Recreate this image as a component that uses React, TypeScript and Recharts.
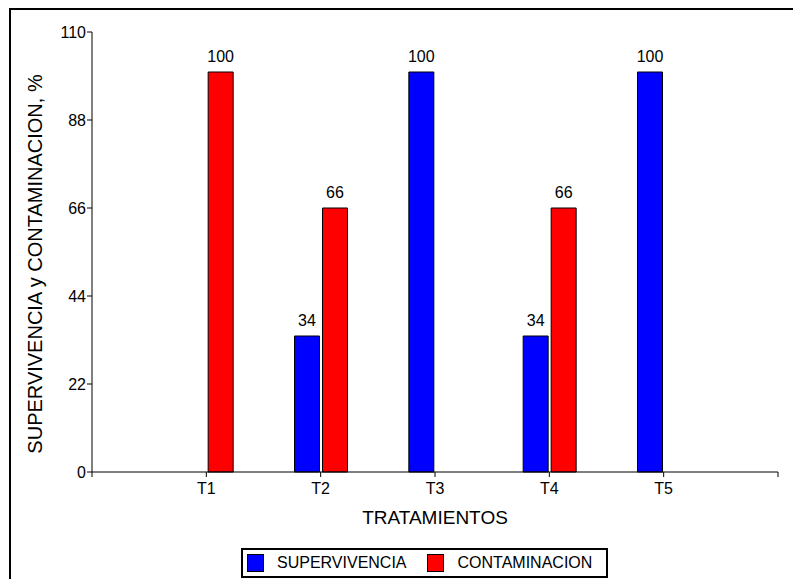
import React from 'react';
import { BarChart, Bar, XAxis, YAxis, Legend, LabelList } from 'recharts';

const categories = ['T1', 'T2', 'T3', 'T4', 'T5'];
const positions = [1, 2, 3, 4, 5];
const supervivencia = [null, 34, 100, 34, 100];
const contaminacion = [100, 66, null, 66, null];
const yTicks = [0, 22, 44, 66, 88, 110];
const xTicks = [0, 1, 2, 3, 4, 5, 6];

const data = positions.map((pos, i) => ({
    pos,
    name: categories[i],
    supervivencia: supervivencia[i],
    contaminacion: contaminacion[i],
}));

const colors = {
    supervivencia: '#0000ff',
    contaminacion: '#ff0000',
};

const FONT = '"Liberation Sans", Arial, sans-serif';

const hideEmpty = (v: any) => (v === null || v === undefined ? '' : v);

const LegendBox = () => (
    <div
        style={{
            boxSizing: 'border-box',
            width: 367,
            height: 30,
            border: '2px solid #000',
            display: 'flex',
            alignItems: 'center',
            fontSize: 16,
            color: '#000',
            fontFamily: FONT,
        }}
    >
        <span style={{ boxSizing: 'border-box', width: 17, height: 18, marginLeft: 4, background: colors.supervivencia, border: '1px solid #000' }} />
        <span style={{ marginLeft: 13 }}>SUPERVIVENCIA</span>
        <span style={{ boxSizing: 'border-box', width: 17, height: 18, marginLeft: 20, background: colors.contaminacion, border: '1px solid #000' }} />
        <span style={{ marginLeft: 14 }}>CONTAMINACION</span>
    </div>
);

export default function App() {
    return (
        <div style={{ position: 'relative', width: 793, height: 579, overflow: 'hidden', background: '#fff', fontFamily: FONT }}>
            <style>{'body{margin:0}'}</style>
            <div
                style={{
                    position: 'absolute',
                    left: 9,
                    top: 8,
                    width: 820,
                    height: 620,
                    border: '2px solid #000',
                }}
            />
            <div style={{ position: 'absolute', left: 0, top: 0 }}>
                <BarChart
                    width={793}
                    height={579}
                    data={data}
                    margin={{ top: 32, right: 15, left: 0, bottom: 1 }}
                    barSize={25}
                    barGap={3}
                >
                    <XAxis
                        dataKey="pos"
                        type="number"
                        domain={[0, 6]}
                        ticks={xTicks}
                        interval={0}
                        tickFormatter={(v) => categories[positions.indexOf(v)] ?? ''}
                        height={76}
                        tickSize={5}
                        tickMargin={6}
                        stroke="#000"
                        tick={{ fill: '#000', fontSize: 16 }}
                        label={{
                            content: ({ viewBox }: any) => (
                                <text
                                    x={viewBox.x + viewBox.width / 2}
                                    y={viewBox.y + 52}
                                    textAnchor="middle"
                                    fontSize={19}
                                    fill="#000"
                                >
                                    TRATAMIENTOS
                                </text>
                            ),
                        }}
                    />
                    <YAxis
                        type="number"
                        domain={[0, 110]}
                        ticks={yTicks}
                        interval={0}
                        width={92}
                        tickSize={5}
                        tickMargin={1}
                        stroke="#000"
                        tick={{ fill: '#000', fontSize: 16 }}
                        label={{
                            content: () => (
                                <text
                                    x={35}
                                    y={264}
                                    transform="rotate(-90 35 264)"
                                    textAnchor="middle"
                                    dominantBaseline="central"
                                    fontSize={20}
                                    fill="#000"
                                >
                                    SUPERVIVENCIA y CONTAMINACION, %
                                </text>
                            ),
                        }}
                    />
                    <Legend
                        verticalAlign="bottom"
                        content={() => <LegendBox />}
                        wrapperStyle={{ left: 241, width: 367 }}
                    />
                    <Bar
                        dataKey="supervivencia"
                        name="SUPERVIVENCIA"
                        fill={colors.supervivencia}
                        stroke="#000"
                        strokeWidth={1}
                        isAnimationActive={false}
                    >
                        <LabelList dataKey="supervivencia" position="top" offset={10} fill="#000" fontSize={16} formatter={hideEmpty} />
                    </Bar>
                    <Bar
                        dataKey="contaminacion"
                        name="CONTAMINACION"
                        fill={colors.contaminacion}
                        stroke="#000"
                        strokeWidth={1}
                        isAnimationActive={false}
                    >
                        <LabelList dataKey="contaminacion" position="top" offset={10} fill="#000" fontSize={16} formatter={hideEmpty} />
                    </Bar>
                </BarChart>
            </div>
        </div>
    );
}
